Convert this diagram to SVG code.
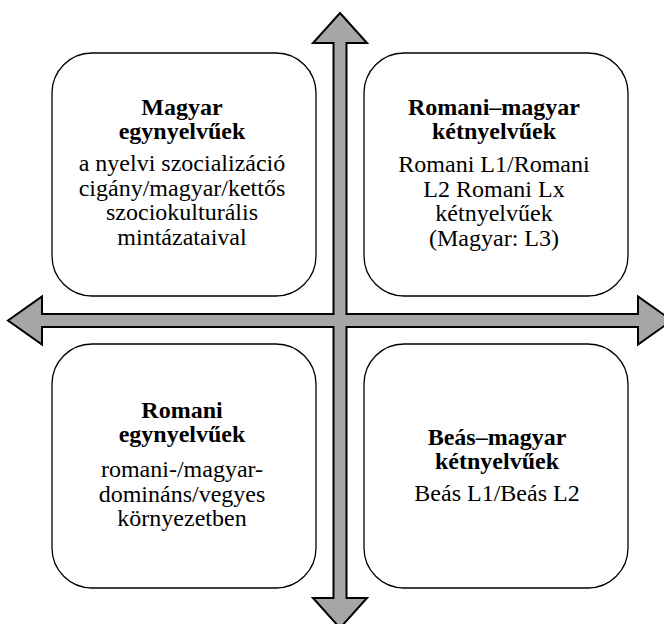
<svg xmlns="http://www.w3.org/2000/svg" width="664" height="624" viewBox="0 0 664 624">
<style>
.box{fill:#fff;stroke:#000;stroke-width:1.3}
.t{font-family:"Liberation Serif","Times New Roman",serif;font-size:24px;text-anchor:middle;fill:#000}
.b{font-weight:bold}
.arrow{fill:#a6a6a6;stroke:#000;stroke-width:2;stroke-linejoin:miter}
</style>
<rect width="664" height="624" fill="#fff"/>
<g id="connectors">
<path class="arrow" d="M340,13 L367,43 L346.5,43 L346.5,314 L638,314 L638,296.5 L672,320.5 L638,344.5 L638,327 L346.5,327 L346.5,598 L367,598 L340,628 L313,598 L333.5,598 L333.5,327 L42,327 L42,344.5 L8,320.5 L42,296.5 L42,314 L333.5,314 L333.5,43 L313,43 Z"/>
</g>
<g id="node-tl">
<rect class="box" x="52" y="53" width="264" height="243" rx="40" ry="40"/>
<text class="t b" x="182" y="115">Magyar</text>
<text class="t b" x="182" y="139">egynyelvűek</text>
<text class="t" x="182" y="171">a nyelvi szocializáció</text>
<text class="t" x="182" y="196">cigány/magyar/kettős</text>
<text class="t" x="182" y="220">szociokulturális</text>
<text class="t" x="182" y="245">mintázataival</text>
</g>
<g id="node-tr">
<rect class="box" x="364" y="53" width="264" height="243" rx="40" ry="40"/>
<text class="t b" x="494" y="115">Romani–magyar</text>
<text class="t b" x="494" y="139">kétnyelvűek</text>
<text class="t" x="494" y="172">Romani L1/Romani</text>
<text class="t" x="494" y="197">L2 Romani Lx</text>
<text class="t" x="494" y="221">kétnyelvűek</text>
<text class="t" x="494" y="246">(Magyar: L3)</text>
</g>
<g id="node-bl">
<rect class="box" x="52" y="344" width="264" height="244" rx="40" ry="40"/>
<text class="t b" x="182" y="418">Romani</text>
<text class="t b" x="182" y="442">egynyelvűek</text>
<text class="t" x="182" y="477">romani-/magyar-</text>
<text class="t" x="182" y="502">domináns/vegyes</text>
<text class="t" x="182" y="526">környezetben</text>
</g>
<g id="node-br">
<rect class="box" x="364" y="344" width="264" height="244" rx="40" ry="40"/>
<text class="t b" x="497" y="445">Beás–magyar</text>
<text class="t b" x="497" y="469">kétnyelvűek</text>
<text class="t" x="497" y="501">Beás L1/Beás L2</text>
</g>
</svg>
